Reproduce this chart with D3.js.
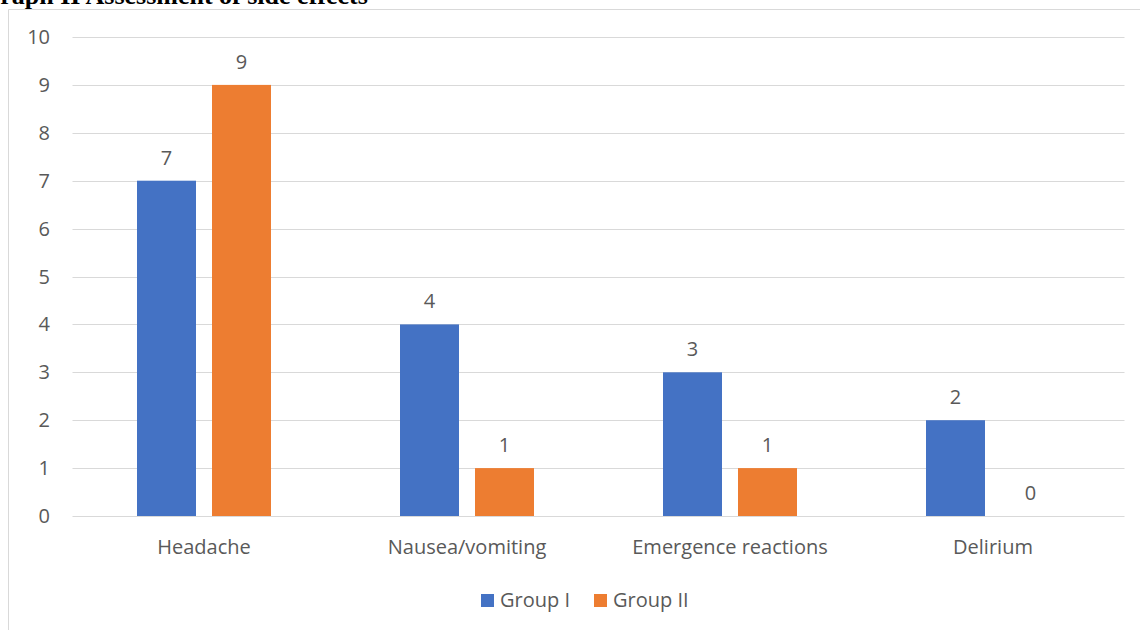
<!DOCTYPE html>
<html>
<head>
<meta charset="utf-8">
<script src="https://cdn.jsdelivr.net/npm/d3@7"></script>
<style>
  body { margin: 0; background: #fff; }
  svg { display: block; }
  text { font-family: "Open Sans", "Noto Sans", sans-serif; fill: #595959; }
</style>
</head>
<body>
<svg id="chart" width="1140" height="630"></svg>
<script>
var categories = ['Headache', 'Nausea/vomiting', 'Emergence reactions', 'Delirium'];
var groupI = [7, 4, 3, 2];
var groupII = [9, 1, 1, 0];
var seriesNames = ['Group I', 'Group II'];
var colors = ['#4472c4', '#ed7d31'];
var yTicks = [0, 1, 2, 3, 4, 5, 6, 7, 8, 9, 10];

var svg = d3.select('#chart');
var margin = {top: 37, left: 72.5, right: 15.5, bottom: 114};
var W = 1140, H = 630;

// title, cropped at top like the source
svg.append('text')
  .attr('x', -20).attr('y', 4)
  .style('font-family', '"Liberation Serif", "Times New Roman", serif')
  .style('font-weight', 'bold').style('font-size', '26px').style('fill', '#000')
  .text('Graph II Assessment of side effects');

// chart frame
svg.append('path')
  .attr('d', 'M8.5,630 V9.5 H1140')
  .attr('fill', 'none').attr('stroke', '#d9d9d9').attr('stroke-width', 1);

var x = d3.scaleBand().domain(categories)
  .range([margin.left, W - margin.right]);
var y = d3.scaleLinear().domain([0, 10])
  .range([H - margin.bottom, margin.top]);

var g = svg.append('g');

g.selectAll('line.grid').data(yTicks).enter().append('line')
  .attr('class', 'grid')
  .attr('x1', margin.left).attr('x2', W - margin.right)
  .attr('y1', function(d){ return Math.round(y(d)) + 0.5; })
  .attr('y2', function(d){ return Math.round(y(d)) + 0.5; })
  .attr('stroke', '#d9d9d9').attr('stroke-width', 1);

g.selectAll('text.ytick').data(yTicks).enter().append('text')
  .attr('class', 'ytick')
  .attr('x', 50).attr('y', function(d){ return y(d); })
  .attr('dy', '0.35em').attr('text-anchor', 'end')
  .style('font-size', '20px')
  .text(function(d){ return d; });

var barW = 59, gap = 16;
var series = [groupI, groupII];

series.forEach(function(vals, s){
  var off = s === 0 ? -gap / 2 - barW : gap / 2;
  g.selectAll('rect.s' + s).data(vals).enter().append('rect')
    .attr('class', 's' + s)
    .attr('x', function(d, i){ return x(categories[i]) + x.bandwidth() / 2 + off; })
    .attr('width', barW)
    .attr('y', function(d){ return y(d); })
    .attr('height', function(d){ return y(0) - y(d); })
    .attr('fill', colors[s]);
  g.selectAll('text.l' + s).data(vals).enter().append('text')
    .attr('class', 'l' + s)
    .attr('x', function(d, i){ return x(categories[i]) + x.bandwidth() / 2 + off + barW / 2; })
    .attr('y', function(d){ return y(d) - 16; })
    .attr('text-anchor', 'middle')
    .style('font-size', '20px')
    .text(function(d){ return d; });
});

g.selectAll('text.cat').data(categories).enter().append('text')
  .attr('class', 'cat')
  .attr('x', function(d){ return x(d) + x.bandwidth() / 2; })
  .attr('y', 554)
  .attr('text-anchor', 'middle')
  .style('font-size', '20px')
  .text(function(d){ return d; });

// legend
var legendX = [481, 594];
var leg = g.selectAll('g.leg').data(seriesNames).enter().append('g')
  .attr('class', 'leg')
  .attr('transform', function(d, i){ return 'translate(' + legendX[i] + ',594)'; });
leg.append('rect').attr('width', 13).attr('height', 13)
  .attr('fill', function(d, i){ return colors[i]; });
leg.append('text').attr('x', 19).attr('y', 13)
  .style('font-size', '20px')
  .text(function(d){ return d; });
</script>
</body>
</html>
